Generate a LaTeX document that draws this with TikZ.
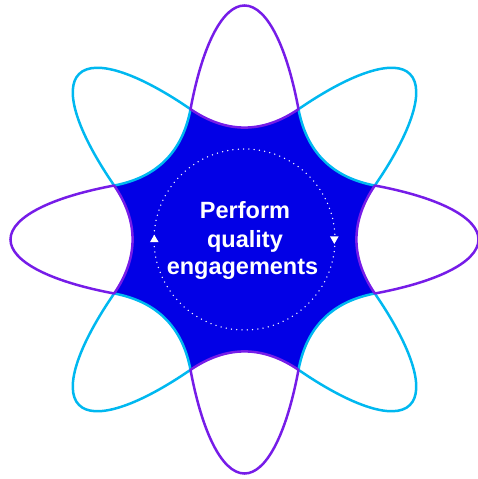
\documentclass[tikz,border=0pt]{standalone}
\usepackage{fontspec}
\setmainfont{Liberation Sans}
\usetikzlibrary{shapes.geometric}
\definecolor{kpurple}{RGB}{118,28,232}
\definecolor{kcyan}{RGB}{0,184,240}
\definecolor{kblue}{RGB}{2,0,230}
\tikzset{
  petalline/.style={line width=2.5pt, line join=round},
  label/.style={text=white, font=\fontsize{23.5}{28}\selectfont\bfseries, inner sep=0pt, anchor=base},
  tri/.style={regular polygon, regular polygon sides=3, fill=white, minimum size=10pt, inner sep=0pt},
}
\begin{document}
\begin{tikzpicture}[x=1pt,y=1pt]
\useasboundingbox (-244.5,-239.5) rectangle (233.5,239.5);
% central star
\fill[kblue] (-22.5:141.07) \foreach \k in {0,...,7}{
  .. controls ({45*\k-9.657}:107.30) and ({45*\k+9.657}:107.30) .. ({45*\k+22.5}:141.07) } -- cycle;
% petals
\foreach \ang/\col in {45/kcyan,135/kcyan,225/kcyan,315/kcyan,0/kpurple,90/kpurple,180/kpurple,270/kpurple}{
  \begin{scope}[rotate=\ang]
    \draw[petalline, draw=\col] (130.33,-53.99) arc[start angle=-56.16, end angle=56.16, x radius=234, y radius=65]
      .. controls (105.78,18) and (105.78,-18) .. (130.33,-53.99) -- cycle;
  \end{scope}
}
% dotted circle
\draw[white, line width=1.5pt, dash pattern=on 0pt off 5.3pt, line cap=round] (0,0) circle[radius=90.5];
\node[tri] (up) at (-90.2,-0.2) {};
\node[tri, rotate=180] (down) at (89.8,0.6) {};
% text
\node[label] (t1) at (0.5,20.5) {Perform};
\node[label] (t2) at (0.5,-7.5) {quality};
\node[label] (t3) at (-2,-35) {engagements};
\end{tikzpicture}
\end{document}
